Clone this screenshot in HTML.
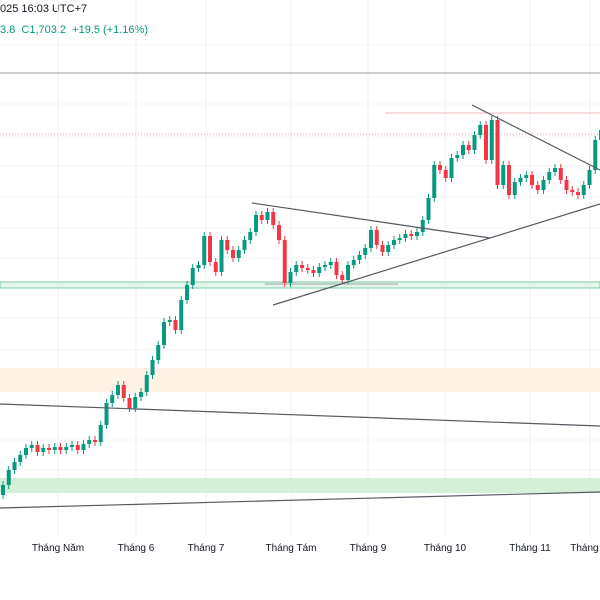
<!DOCTYPE html>
<html><head><meta charset="utf-8"><style>
body{margin:0;background:#fff;font-family:"Liberation Sans",sans-serif;}
#wrap{position:relative;width:600px;height:600px;overflow:hidden;}
.t{position:absolute;font-size:11px;color:#131722;white-space:nowrap}
</style></head><body>
<div id="wrap">
<div class="t" style="left:0;top:3px">025 16:03 UTC+7</div>
<div class="t" style="left:0;top:24px;color:#089981">3.8 &nbsp;C1,703.2 &nbsp;+19.5 (+1.16%)</div>
<svg id="svg" width="600" height="600" style="position:absolute;left:0;top:0"></svg>
</div>
<script>
const monthLabels=["Tháng Năm","Tháng 6","Tháng 7","Tháng Tám","Tháng 9","Tháng 10","Tháng 11","Tháng M"];
const monthPos=[58,136,206,291,368,445,530,590];
const firstOpen=105;
const closes=[115,130,138,145,152,155,148,152,150,153,150,153,155,150,156,160,158,175,197,205,215,202,192,203,208,225,240,255,278,280,270,300,315,332,335,364,338,328,360,350,342,350,360,368,385,380,388,375,360,317,328,335,332,330,327,333,335,338,325,320,335,340,345,352,370,355,348,355,360,362,366,364,368,380,402,435,430,422,442,445,455,450,465,475,440,480,415,435,405,418,422,425,415,410,420,428,432,420,410,408,405,415,430,460,470];
const x0=3,dx=5.75;
function xS(i){return x0+i*dx;}
function yS(v){return 600-v;}
const svg=document.getElementById('svg');
const NS="http://www.w3.org/2000/svg";
function mk(tag,a){const e=document.createElementNS(NS,tag);for(const k in a)e.setAttribute(k,a[k]);svg.appendChild(e);return e;}
monthPos.forEach((x,i)=>{const l=mk('line',{x1:x,y1:0,x2:x,y2:535,stroke:'#f0f2f5'});

});
[45,104,136,166,197,228,258,318,350,440,470].forEach(y=>{const l=mk('line',{x1:0,y1:y,x2:600,y2:y,stroke:'#f4f5f7'});

});
let z=mk('rect',{x:0,y:368,width:600,height:24,fill:'#fdf2e3'});


z=mk('rect',{x:0,y:478,width:600,height:15,fill:'#d6efd8'});


z=mk('rect',{x:0,y:282,width:600,height:6,fill:'#e3f5ec',stroke:'#7ccfa6','stroke-width':1});


z=mk('line',{x1:265,y1:284,x2:398,y2:284,stroke:'#b7c0bd','stroke-width':1.5});


z=mk('line',{x1:0,y1:73,x2:600,y2:73,stroke:'#bdbdc3','stroke-width':1.5});


z=mk('line',{x1:0,y1:134,x2:600,y2:134,stroke:'#e8a4a8','stroke-width':1,'stroke-dasharray':'1,2'});


z=mk('line',{x1:385,y1:113,x2:600,y2:113,stroke:'#f0b8bb','stroke-width':1});


for(let i=0;i<closes.length;i++){
 const o=i===0?firstOpen:closes[i-1],c=closes[i],up=c>=o,col=up?'#089981':'#f23645',x=xS(i);
 const hi=Math.max(o,c)+4,lo=Math.min(o,c)-4;
 const w=mk('line',{x1:x,y1:yS(hi),x2:x,y2:yS(lo),stroke:col,'stroke-width':1});
 
 
 const b=mk('rect',{x:x-2,y:yS(Math.max(o,c)),width:4,height:Math.max(1,Math.abs(c-o)),fill:col});
 
 
}
[[0,404,600,426],[0,508,600,492],[252,203,490,238],[273,305,600,204],[472,105,600,170]].forEach(p=>{
 const l=mk('line',{x1:p[0],y1:p[1],x2:p[2],y2:p[3],stroke:'#555a62','stroke-width':1.2});
 
 
});
monthLabels.forEach((t,i)=>{const e=mk('text',{x:monthPos[i],y:551,'font-size':10,fill:'#131722','text-anchor':'middle','font-family':'Liberation Sans, sans-serif'});e.textContent=t;

});
</script>
</body></html>
